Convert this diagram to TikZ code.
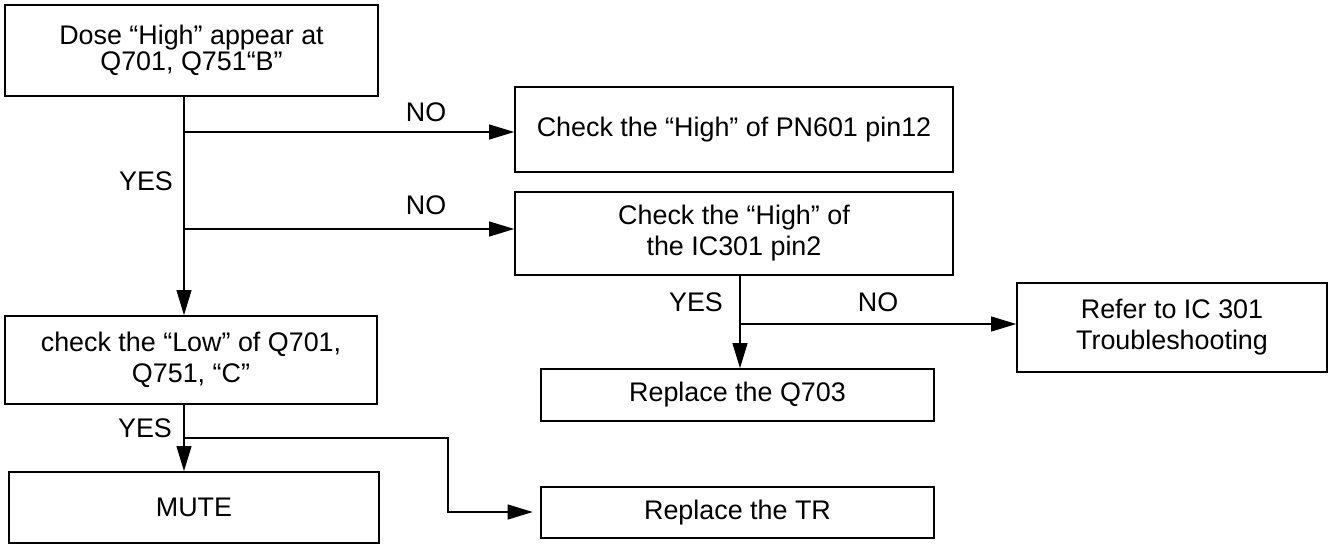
\documentclass[tikz,border=0pt]{standalone}
\usepackage{fontspec}
\setmainfont{Liberation Sans}
\usetikzlibrary{arrows.meta}
\tikzset{
  box/.style={draw, line width=1pt, inner sep=0pt, align=center, font=\fontsize{15.3}{17.6}\selectfont},
  lbl/.style={inner sep=0pt, font=\fontsize{15.3}{17.6}\selectfont},
  arr/.style={line width=0.6pt, -{Triangle[length=5mm,width=3mm]}}
}
\begin{document}
\begin{tikzpicture}[x=0.02cm,y=-0.02cm]
  \useasboundingbox (0,0) rectangle (1329,545);

  % boxes
  \node[box, minimum width=7.46cm, minimum height=1.82cm, font=\fontsize{15.3}{12.8}\selectfont] (dose) at (191.5,50.5) {Dose “High” appear at\\Q701, Q751“B”\rule[-1.2mm]{0pt}{1mm}};
  \node[box, minimum width=8.76cm, minimum height=1.7cm] (pn) at (734,129.5) {Check the “High” of PN601 pin12};
  \node[box, minimum width=8.76cm, minimum height=1.66cm] (ic) at (734,233.5) {Check the “High” of\\the IC301 pin2};
  \node[box, minimum width=7.44cm, minimum height=1.76cm] (chk) at (191,360) {check the “Low” of Q701,\\Q751, “C”};
  \node[box, minimum width=7.4cm, minimum height=1.42cm] (mute) at (194,507.5) {MUTE};
  \node[box, minimum width=6.2cm, minimum height=1.78cm] (refer) at (1172,327.5) {Refer to IC 301\\Troubleshooting};
  \node[box, minimum width=7.86cm, minimum height=1.04cm] (q703) at (737.5,395) {Replace the Q703};
  \node[box, minimum width=7.86cm, minimum height=1.02cm] (tr) at (737.5,512.5) {Replace the TR};

  % branch points
  \coordinate (tx) at (184,0);
  \coordinate (ux) at (740,0);
  \coordinate (b1) at (184,132);
  \coordinate (b2) at (184,229);
  \coordinate (b3) at (740,324);
  \coordinate (b4) at (184,438);
  \coordinate (b5) at (448,512);

  % connectors
  \draw[arr] (dose.south -| tx) -- (chk.north -| tx);
  \draw[arr] (b1) -- (b1 -| pn.west);
  \draw[arr] (b2) -- (b2 -| ic.west);
  \draw[arr] (ic.south -| ux) -- (q703.north -| ux);
  \draw[arr] (b3) -- (b3 -| refer.west);
  \draw[arr] (chk.south -| tx) -- (mute.north -| tx);
  \draw[arr, shorten >=1.5mm] (b4) -| (b5) -- (b5 -| tr.west);

  % labels
  \node[lbl] (yes1) at (146,181) {YES};
  \node[lbl] (no1) at (426,112) {NO};
  \node[lbl] (no2) at (426,205) {NO};
  \node[lbl] (yes2) at (696,302) {YES};
  \node[lbl] (no3) at (878,302) {NO};
  \node[lbl] (yes3) at (145,428) {YES};
\end{tikzpicture}
\end{document}
